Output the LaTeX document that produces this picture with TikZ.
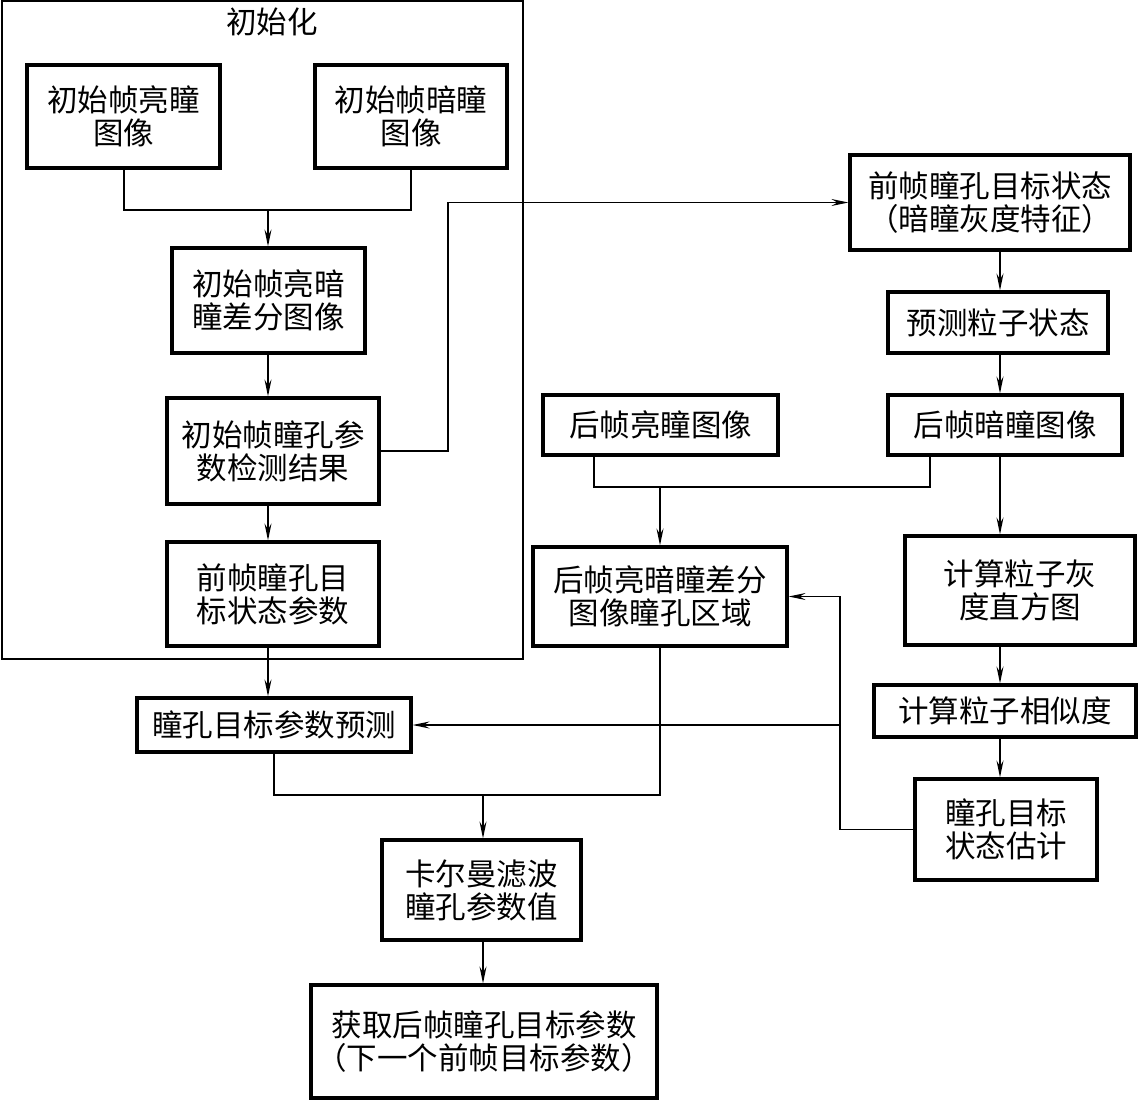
\documentclass[tikz,border=0pt]{standalone}
\usepackage{fontspec}
\setmainfont{Noto Sans CJK SC}
\usetikzlibrary{arrows.meta}
\begin{document}
\begin{tikzpicture}[x=1pt,y=-1pt,
  box/.style={draw,line width=3.2pt,inner sep=0pt,align=center,font=\fontsize{30.5}{33}\selectfont},
  line/.style={line width=1.3pt},
  arr/.style={line width=1.3pt,-{Stealth[length=17pt,width=7pt,inset=6pt]}},
  frame/.style={line width=1.5pt}]
\useasboundingbox (0,0) rectangle (1138,1101);
% frame
\draw[frame] (2,1) rectangle (523,659);
\node[font=\fontsize{30.5}{33}\selectfont] (T) at (272,22) {初始化};
% nodes
\node[box,minimum width=193pt,minimum height=103pt] (A) at (123.5,116.5) {初始帧亮瞳\\图像};
\node[box,minimum width=192pt,minimum height=103pt] (B) at (411,116.5) {初始帧暗瞳\\图像};
\node[box,minimum width=193pt,minimum height=105pt] (C) at (268.5,300.5) {初始帧亮暗\\瞳差分图像};
\node[box,minimum width=212pt,minimum height=106pt] (D) at (273,451) {初始帧瞳孔参\\数检测结果};
\node[box,minimum width=212pt,minimum height=104pt] (E) at (273,594) {前帧瞳孔目\\标状态参数};
\node[box,minimum width=274pt,minimum height=54pt] (F) at (274,725) {瞳孔目标参数预测};
\node[box,minimum width=280pt,minimum height=95pt] (G) at (990,202.5) {前帧瞳孔目标状态\\（暗瞳灰度特征）};
\node[box,minimum width=220pt,minimum height=61pt] (H) at (998,322.5) {预测粒子状态};
\node[box,minimum width=234pt,minimum height=60pt] (I) at (1005,425) {后帧暗瞳图像};
\node[box,minimum width=235pt,minimum height=60pt] (J) at (660.5,425) {后帧亮瞳图像};
\node[box,minimum width=254pt,minimum height=99pt] (K) at (660,596.5) {后帧亮暗瞳差分\\图像瞳孔区域};
\node[box,minimum width=230pt,minimum height=109pt] (L) at (1020,590.5) {计算粒子灰\\度直方图};
\node[box,minimum width=262pt,minimum height=52pt] (M) at (1005,711) {计算粒子相似度};
\node[box,minimum width=182pt,minimum height=101pt] (N) at (1006,829.5) {瞳孔目标\\状态估计};
\node[box,minimum width=199pt,minimum height=100pt] (O) at (481.5,890) {卡尔曼滤波\\瞳孔参数值};
\node[box,minimum width=346pt,minimum height=113pt] (P) at (484,1041.5) {获取后帧瞳孔目标参数\\（下一个前帧目标参数）};
% helper coordinates
\coordinate (xc) at (268,0);
\coordinate (xr) at (1000,0);
\coordinate (m1) at (268,210);
\coordinate (dg) at (448,202.5);
\coordinate (m2) at (660,487);
\coordinate (nk) at (840,596.5);
\coordinate (nf) at (840,725);
\coordinate (m3) at (483,795);
% connectors left
\draw[line] ([xshift=0.5pt]A.south) |- (m1) -| (B.south);
\draw[arr] (m1) -- (C.north -| xc);
\draw[arr] (C.south -| xc) -- (D.north -| xc);
\draw[arr] (D.south -| xc) -- (E.north -| xc);
\draw[arr] (E.south -| xc) -- (F.north -| xc);
\draw[arr] (D.east) -| (dg) -- (G.west);
% right column
\draw[arr] (G.south -| xr) -- (H.north -| xr);
\draw[arr] (H.south -| xr) -- (I.north -| xr);
\draw[arr] (I.south -| xr) -- (L.north -| xr);
\draw[arr] (L.south -| xr) -- (M.north -| xr);
\draw[arr] (M.south -| xr) -- (N.north -| xr);
% merge J, I
\draw[line] ([xshift=-66.5pt]J.south) |- (m2) -| ([xshift=-75pt]I.south);
\draw[arr] (m2) -- (K.north);
% feedback from N
\draw[arr] (N.west) -| (nk) -- (K.east);
\draw[arr] (nf) -- (F.east);
% merge F, K
\draw[line] (F.south) |- (m3) -| (K.south);
\draw[arr] (m3) -- (m3 |- O.north);
\draw[arr] (O.south -| m3) -- (P.north -| m3);
\end{tikzpicture}
\end{document}
